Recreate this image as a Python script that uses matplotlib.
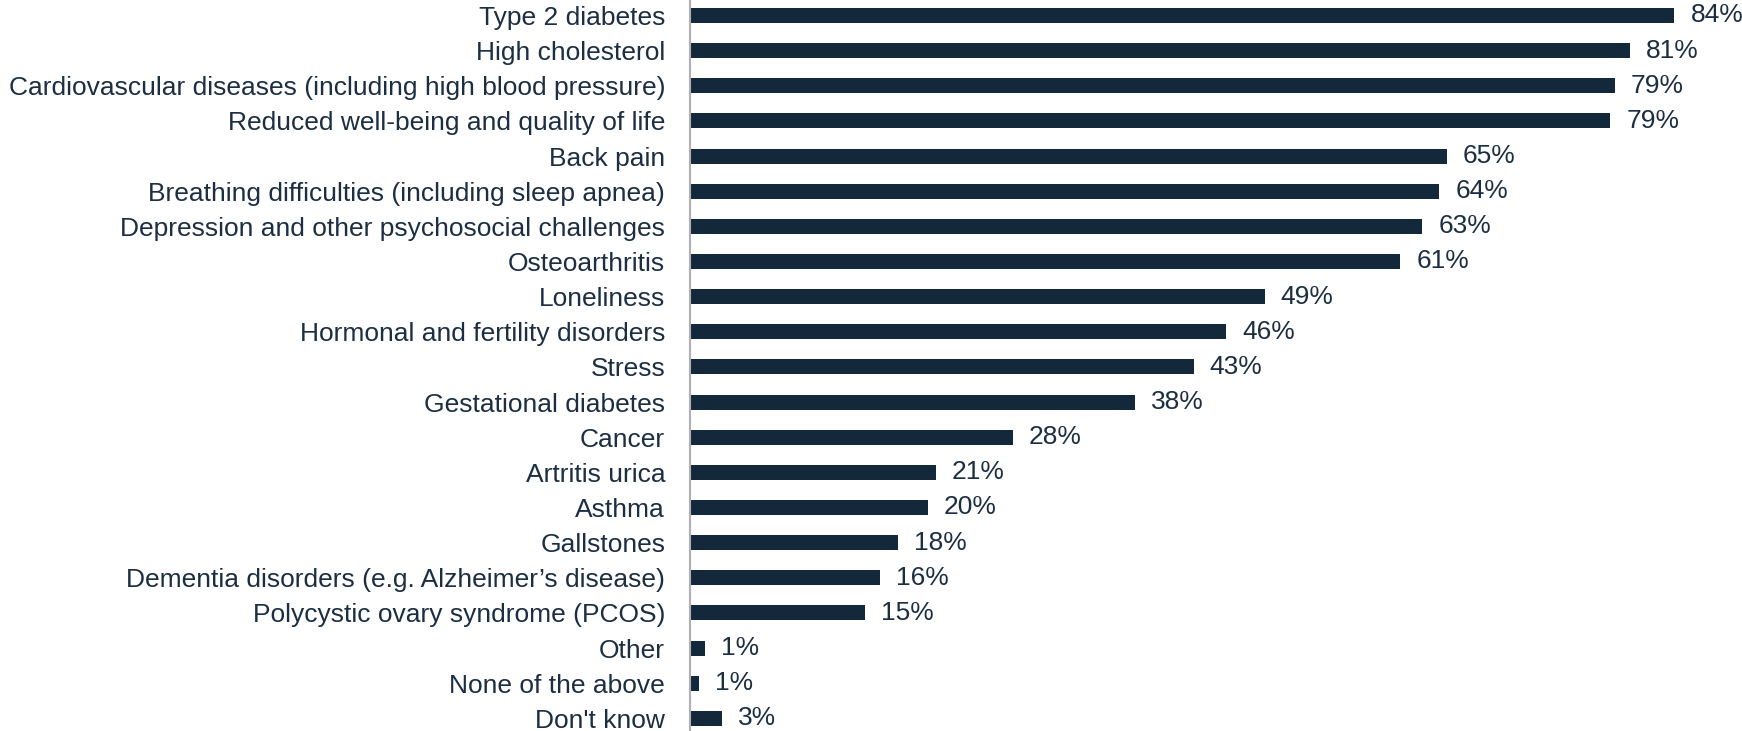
import matplotlib
matplotlib.use("Agg")
import matplotlib.pyplot as plt

categories = [
    "Type 2 diabetes",
    "High cholesterol",
    "Cardiovascular diseases (including high blood pressure)",
    "Reduced well-being and quality of life",
    "Back pain",
    "Breathing difficulties (including sleep apnea)",
    "Depression and other psychosocial challenges",
    "Osteoarthritis",
    "Loneliness",
    "Hormonal and fertility disorders",
    "Stress",
    "Gestational diabetes",
    "Cancer",
    "Artritis urica",
    "Asthma",
    "Gallstones",
    "Dementia disorders (e.g. Alzheimer\u2019s disease)",
    "Polycystic ovary syndrome (PCOS)",
    "Other",
    "None of the above",
    "Don't know",
]
values = [84.4, 80.6, 79.3, 78.9, 64.9, 64.25, 62.8, 60.9, 49.3, 46.0, 43.2,
          38.2, 27.7, 21.1, 20.4, 17.9, 16.3, 15.0, 1.37, 0.83, 2.79]
labels = ["84%", "81%", "79%", "79%", "65%", "64%", "63%", "61%", "49%", "46%",
          "43%", "38%", "28%", "21%", "20%", "18%", "16%", "15%", "1%", "1%", "3%"]

bar_color = "#14283c"
text_color = "#1c2e42"

plt.rcParams['font.family'] = ['Liberation Sans', 'DejaVu Sans']

fig = plt.figure(figsize=(17.42, 7.31), dpi=100)
ax = fig.add_axes([689.5 / 1742, 0, 1 - 689.5 / 1742, 1])

ypos = list(range(len(categories)))
ax.barh(ypos, values, height=0.427, color=bar_color, edgecolor="none")
ax.set_xlim(0, 90.19)
ax.set_ylim(20.36, -0.441)

for y, v, lab in zip(ypos, values, labels):
    ax.annotate(lab, (v, y), xytext=(16, 0), textcoords="offset pixels",
                va="center", ha="left", fontsize=19, color=text_color)

ax.set_yticks(ypos)
ax.set_yticklabels(categories, fontsize=19, color=text_color)
ax.tick_params(axis="y", length=0, pad=17.5)
ax.set_xticks([])
for s in ["top", "right", "bottom"]:
    ax.spines[s].set_visible(False)
ax.spines["left"].set_color("#b0b0b0")
ax.spines["left"].set_linewidth(1.5)

fig.savefig("out.png", dpi=100)
